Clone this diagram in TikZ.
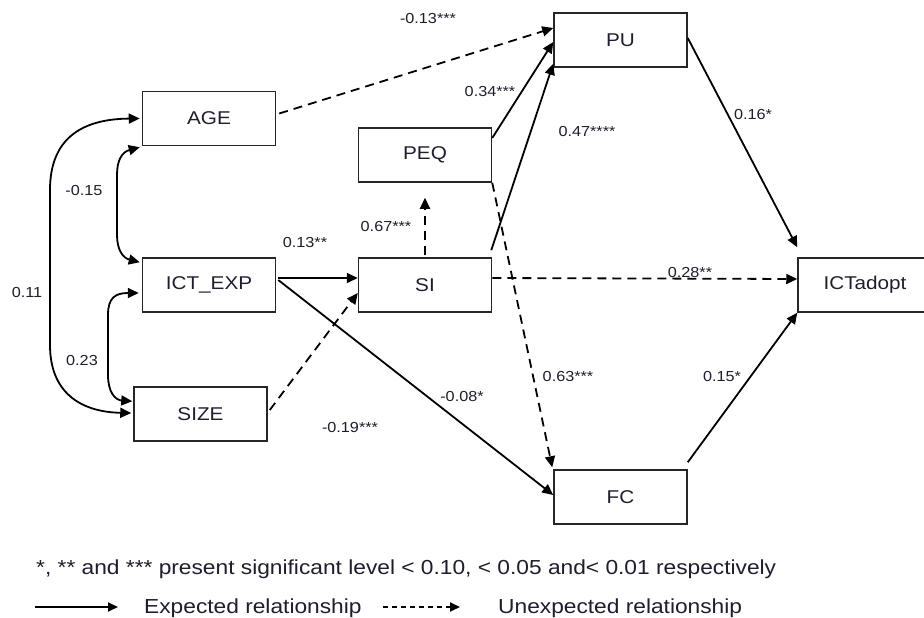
\documentclass[tikz,border=0pt]{standalone}
\usepackage{fontspec}
\setmainfont{Liberation Sans}[FakeStretch=1.12]
\usetikzlibrary{arrows.meta}
\definecolor{txt}{RGB}{30,30,45}
\tikzset{
  box/.style={draw=black!85, line width=1.5pt, minimum width=133pt, minimum height=54pt, inner sep=0pt, font=\fontsize{18.5}{18.5}\selectfont, text=txt},
  lab/.style={font=\fontsize{14.5}{15}\selectfont, text=txt, inner sep=0pt},
  legtxt/.style={font=\fontsize{20.3}{21}\selectfont, text=txt, inner sep=0pt},
  conn/.style={line width=1.8pt, -{Triangle[length=11pt,width=10pt]}},
  dconn/.style={conn, dash pattern=on 9pt off 6pt},
  dbl/.style={line width=1.8pt, {Triangle[length=11pt,width=10pt]}-{Triangle[length=11pt,width=10pt]}},
}
\begin{document}
\begin{tikzpicture}[x=1pt,y=-1pt]
\useasboundingbox[fill=white] (0,0) rectangle (924,618);
% boxes
\node[box] (age) at (209,118.5) {AGE};
\node[box] (exp) at (209,285) {ICT\_EXP};
\node[box] (size) at (200.5,414) {SIZE};
\node[box] (peq) at (425,155) {PEQ};
\node[box] (si) at (425,285) {SI};
\node[box] (pu) at (620.5,40) {PU};
\node[box] (fc) at (620.5,497) {FC};
\node[box, minimum width=134pt] (ict) at (865,285) {ICTadopt};
% connectors
\draw[dconn] ([xshift=3pt,yshift=5pt]age.east) -- ([yshift=12pt]pu.west);
\draw[conn] ([yshift=17pt]peq.east) -- ([yshift=-2pt]pu.west);
\draw[conn] ([xshift=-1pt,yshift=7pt]si.north east) -- ([yshift=4pt]pu.south west);
\draw[dconn] ([yshift=2pt]si.north) -- ([yshift=-15pt]peq.south);
\draw[dconn] (peq.south east) -- ([xshift=-1pt,yshift=2pt]fc.north west);
\draw[dconn] ([yshift=7pt]si.east) -- ([yshift=6pt]ict.west);
\draw[conn] ([xshift=2pt,yshift=7pt]exp.east) -- ([yshift=7pt]si.west);
\draw[conn] ([xshift=2pt,yshift=5pt]exp.east) -- ([yshift=2pt]fc.west);
\draw[dconn] ([xshift=2pt,yshift=4pt]size.east) -- ([yshift=-8pt]si.west);
\draw[conn] ([yshift=2pt]pu.east) -- ([yshift=10pt]ict.north west);
\draw[conn] ([yshift=7pt]fc.north east) -- (ict.south west);
% correlations
\draw[dbl] ([xshift=-2pt,yshift=-1pt]age.south west) .. controls (122,152) and (117,160) .. (117,175) -- (117,235) .. controls (117,250) and (123,258) .. ([xshift=-2pt,yshift=-5pt]exp.north west);
\draw[dbl] ([xshift=-3pt,yshift=-8pt]exp.west) .. controls (115,293) and (108,298) .. (108,315) -- (108,375) .. controls (108,392) and (115,400) .. ([xshift=-1pt,yshift=-15pt]size.north west);
\draw[dbl] ([xshift=-2pt,yshift=0pt]age.west) .. controls (80,119) and (50,140) .. (50,190) -- (50,345) .. controls (50,392) and (80,412) .. ([xshift=-2pt,yshift=1pt]size.west);
% labels
\node[lab] (l1) at (428,19) {-0.13***};
\node[lab] (l2) at (490,92) {0.34***};
\node[lab] (l3) at (587,132) {0.47****};
\node[lab] (l4) at (386,227) {0.67***};
\node[lab] (l5) at (305,243) {0.13**};
\node[lab] (l6) at (690,273) {0.28**};
\node[lab] (l7) at (568,377) {0.63***};
\node[lab] (l8) at (462,397) {-0.08*};
\node[lab] (l9) at (350,428) {-0.19***};
\node[lab] (l10) at (753,115) {0.16*};
\node[lab] (l11) at (722,377) {0.15*};
\node[lab] (l12) at (84,191) {-0.15};
\node[lab] (l13) at (27,293) {0.11};
\node[lab] (l14) at (82,361) {0.23};
% legend
\node[legtxt, anchor=base west] (leg1) at (36,574) {*, ** and *** present significant level < 0.10, < 0.05 and< 0.01 respectively};
\coordinate (sa) at (35,607);
\coordinate (sb) at (118,607);
\coordinate (da) at (383,607);
\coordinate (db) at (460,607);
\draw[line width=1.8pt, -{Triangle[length=10pt,width=9pt]}] (sa) -- (sb);
\draw[line width=1.8pt, dash pattern=on 5pt off 4pt, -{Triangle[length=10pt,width=9pt]}] (da) -- (db);
\node[legtxt, anchor=base west] (leg2) at (144,613) {Expected relationship};
\node[legtxt, anchor=base west] (leg3) at (498,613) {Unexpected relationship};
\end{tikzpicture}
\end{document}
